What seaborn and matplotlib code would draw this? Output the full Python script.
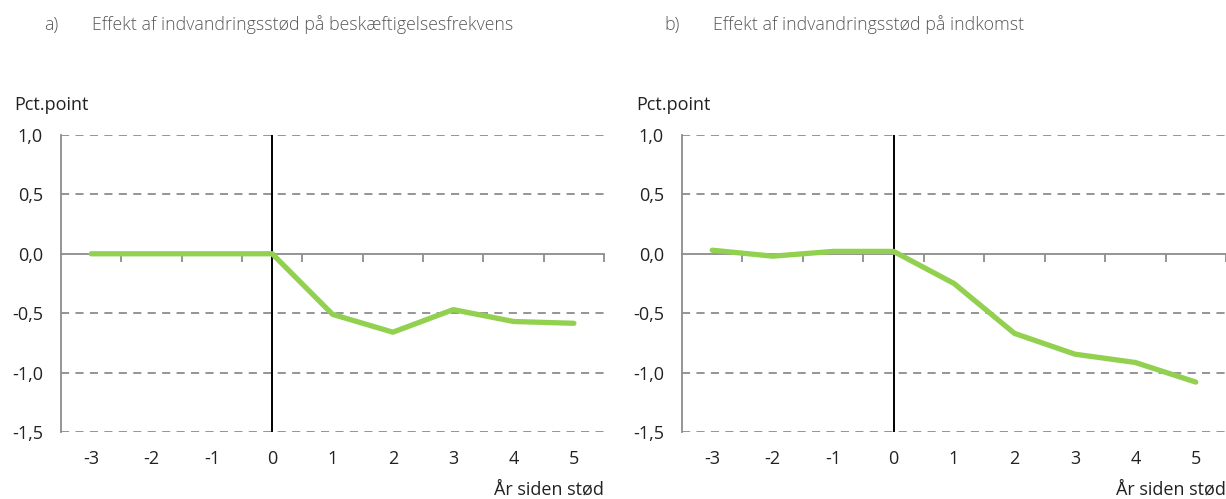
import matplotlib.pyplot as plt
import seaborn as sns
import pandas as pd
from matplotlib.ticker import FixedLocator, FuncFormatter

# Data
years = [-3, -2, -1, 0, 1, 2, 3, 4, 5]
beskaeftigelse = [0.0, 0.0, 0.0, 0.0, -0.51, -0.66, -0.47, -0.57, -0.585]
indkomst = [0.03, -0.02, 0.02, 0.02, -0.25, -0.67, -0.845, -0.915, -1.08]

titles = ['Effekt af indvandringsstød på beskæftigelsesfrekvens',
          'Effekt af indvandringsstød på indkomst']
letters = ['a)', 'b)']
series = [beskaeftigelse, indkomst]
y_ticks = [-1.5, -1.0, -0.5, 0.0, 0.5, 1.0]

sns.set_theme(style='white')
plt.rcParams['font.family'] = ['Open Sans', 'DejaVu Sans']

fig = plt.figure(figsize=(12.26, 4.99), dpi=100)
positions = [[0.0498, 0.1343, 0.4429, 0.5952],
             [0.5563, 0.1343, 0.4437, 0.5952]]

green = '#92D050'
grey = '#8c8c8c'
txt = '#222222'
fs = 13

for i in range(2):
    ax = fig.add_axes(positions[i])
    df = pd.DataFrame({'year': years, 'value': series[i]})

    # Gridlines og akser
    for yv in y_ticks:
        if yv != 0:
            ax.axhline(yv, color=grey, lw=1.3, ls=(0, (4.5, 3.5)), zorder=1)
    ax.axvline(0, color='black', lw=1.4, zorder=2)

    sns.lineplot(x='year', y='value', data=df, color=green, linewidth=3.8,
                 ax=ax, zorder=3, solid_capstyle='round')

    ax.set_xlim(-3.5, 5.5)
    ax.set_ylim(-1.5, 1.0)

    for s in ['top', 'right']:
        ax.spines[s].set_visible(False)
    ax.spines['left'].set_color(grey)
    ax.spines['left'].set_linewidth(1.3)
    ax.spines['bottom'].set_position(('data', 0))
    ax.spines['bottom'].set_color(grey)
    ax.spines['bottom'].set_linewidth(1.3)

    # x-akse: streger mellem kategorier
    ax.set_xticks([])
    ax.xaxis.set_minor_locator(FixedLocator([y + 0.5 for y in years]))
    ax.tick_params(axis='x', which='minor', bottom=True, length=6, width=1.3,
                   color=grey, direction='out')

    # labels i bunden
    sec = ax.secondary_xaxis('bottom')
    sec.set_xticks(years)
    sec.set_xticklabels([str(y) for y in years])
    sec.tick_params(length=0, pad=13, labelsize=fs, labelcolor=txt)
    sec.spines['bottom'].set_visible(False)

    ax.set_yticks(y_ticks)
    ax.yaxis.set_major_formatter(FuncFormatter(lambda v, p: f'{v:.1f}'.replace('.', ',')))
    ax.tick_params(axis='y', length=0, pad=13, labelsize=fs, labelcolor=txt)

    ax.set_xlabel('')
    ax.set_ylabel('')
    ax.grid(False)

    ax.text(-(positions[i][0] * 1226 - (14 if i == 0 else 636)) / (positions[i][2] * 1226),
            1.1, 'Pct.point', transform=ax.transAxes, fontsize=fs,
            color=txt, ha='left', va='center')
    ax.text(1.0, -0.195, 'År siden stød', transform=ax.transAxes, fontsize=fs,
            color=txt, ha='right', va='center')

    # Titler
    x0 = positions[i][0]
    fig.text(x0 - 0.014, 0.95, letters[i], fontsize=12.8, color='#595959',
             ha='left', va='center', fontweight='light')
    fig.text(x0 + 0.025, 0.95, titles[i], fontsize=12.8, color='#595959',
             ha='left', va='center', fontweight='light')

fig.savefig('out.png', dpi=100)
